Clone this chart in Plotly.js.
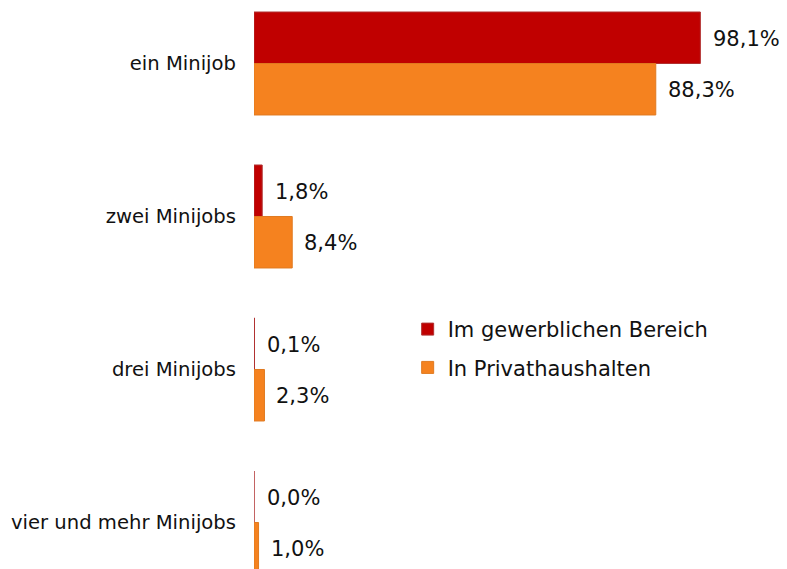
<!DOCTYPE html>
<html>
<head>
<meta charset="utf-8">
<script src="https://cdn.plot.ly/plotly-3.0.1.min.js"></script>
<style>html,body{margin:0;padding:0;background:#fff;}#chart{width:787px;height:569px;}</style>
</head>
<body>
<div id="chart"></div>
<script>
var categories = ["ein Minijob", "zwei Minijobs", "drei Minijobs", "vier und mehr Minijobs"];
var seriesNames = ["Im gewerblichen Bereich", "In Privathaushalten"];
var gewerblich = [98.1, 1.8, 0.1, 0.0];
var privat = [88.3, 8.4, 2.3, 1.0];
var gewerblichLabels = ["98,1%", "1,8%", "0,1%", "0,0%"];
var privatLabels = ["88,3%", "8,4%", "2,3%", "1,0%"];
var colors = ["#C00000", "#F5821F"];

var font = "DejaVu Sans, Arial, sans-serif";

var traces = [
  {type: "bar", orientation: "h", name: seriesNames[0], y: categories, x: gewerblich,
   marker: {color: colors[0], line: {color: "#B03030", width: 1}}, legendgroup: "a", hoverinfo: "none"},
  {type: "bar", orientation: "h", name: seriesNames[1], y: categories, x: privat,
   marker: {color: colors[1], line: {color: "#E07A20", width: 1}}, legendgroup: "b", hoverinfo: "none"}
];

var annotations = [];
categories.forEach(function (c, i) {
  annotations.push({x: gewerblich[i], y: c, text: gewerblichLabels[i], showarrow: false,
    xanchor: "left", yanchor: "middle", xshift: 11, yshift: 24,
    font: {family: font, size: 21, color: "#111"}});
  annotations.push({x: privat[i], y: c, text: privatLabels[i], showarrow: false,
    xanchor: "left", yanchor: "middle", xshift: 10, yshift: -27,
    font: {family: font, size: 21, color: "#111"}});
});

var layout = {
  width: 787, height: 569,
  margin: {l: 254, r: 78, t: 0, b: 0, pad: 0, autoexpand: false},
  paper_bgcolor: "#fff", plot_bgcolor: "#fff",
  barmode: "group", bargap: 0.327, bargroupgap: 0,
  showlegend: true,
  legend: {xref: "container", yref: "container", x: 0.518, y: 0.457, xanchor: "left", yanchor: "top",
    font: {family: font, size: 21, color: "#111"}, traceorder: "grouped", tracegroupgap: 8,
    bgcolor: "rgba(0,0,0,0)"},
  xaxis: {range: [0, 100], autorange: false, showgrid: false, zeroline: false, showticklabels: false, showline: false, fixedrange: true},
  yaxis: {type: "category", categoryarray: categories, categoryorder: "array", autorange: false,
    range: [3.304, -0.415], showgrid: false, zeroline: false, showline: false,
    ticks: "", ticklabelstandoff: 17, tickfont: {family: font, size: 19.6, color: "#111"}, fixedrange: true},
  annotations: annotations
};

Plotly.newPlot("chart", traces, layout, {displayModeBar: false, staticPlot: true});
</script>
</body>
</html>
